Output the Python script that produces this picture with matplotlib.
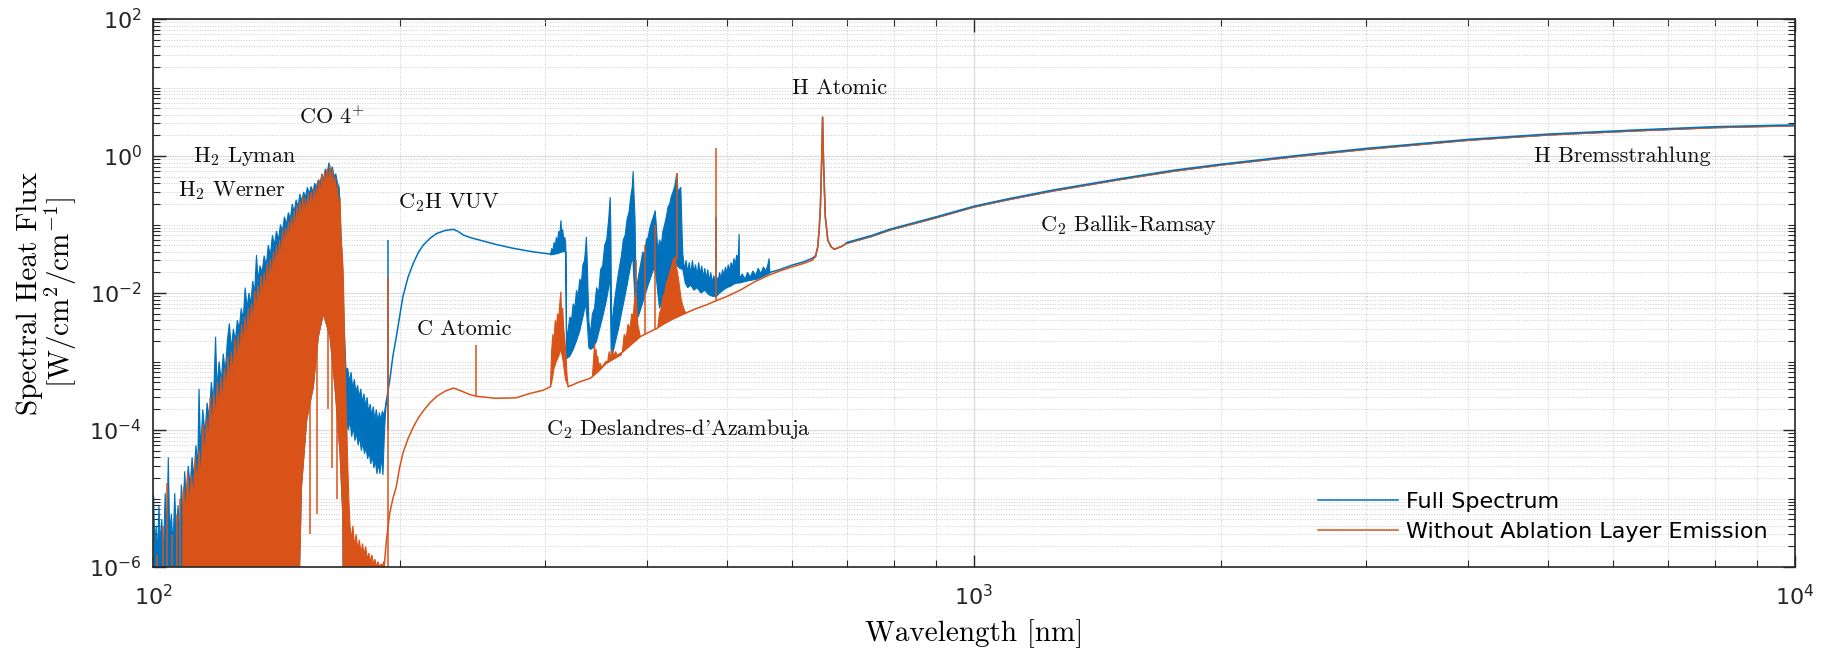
import numpy as np
import matplotlib.pyplot as plt
from matplotlib.ticker import LogLocator, NullFormatter

plt.rcParams['mathtext.fontset'] = 'cm'
plt.rcParams['axes.unicode_minus'] = False

BLUE = '#0072BD'
ORANGE = '#D95319'

# ---- values: (wavelength nm, flux W/cm2/cm-1) ----
# VUV band of the full spectrum, upper edge 100-192.5 nm
full_vuv_top = [
    (100.0, 2e-6), (100.2, 1.1e-5), (100.5, 2e-6), (100.9, 4e-6), (101.3, 1.5e-6), (101.7, 8e-6),
    (102.1, 2e-6), (102.5, 5e-6), (103.0, 1.5e-6), (103.5, 1.2e-5), (104.0, 3e-6), (104.4, 4e-5),
    (104.8, 3e-6), (105.3, 6e-6), (105.8, 2e-6), (106.3, 1.2e-5), (106.8, 3e-6), (107.3, 8e-6),
    (107.8, 3e-6), (108.3, 1.6e-5), (108.8, 5e-6), (109.3, 2.5e-5), (109.8, 1e-5), (110.4, 3e-5),
    (111.0, 1.5e-5), (111.6, 4e-5), (112.2, 2e-5), (112.8, 6e-5), (113.4, 3e-5), (113.8, 4e-4),
    (114.3, 5e-5), (115.0, 2e-4), (115.7, 9e-5), (116.4, 2.5e-4), (117.1, 1.5e-4), (117.8, 5e-4),
    (118.5, 2.5e-4), (119.2, 2.3e-3), (119.7, 4e-4), (120.4, 1e-3), (121.1, 5e-4), (121.8, 1.3e-3),
    (122.5, 7e-4), (123.2, 2e-3), (123.9, 3.6e-3), (124.6, 1.5e-3), (125.3, 3e-3), (126.0, 2e-3),
    (126.7, 4e-3), (127.4, 3e-3), (128.1, 6e-3), (128.8, 4e-3), (129.5, 1.2e-2), (130.2, 6e-3),
    (130.9, 1e-2), (131.6, 7e-3), (132.3, 1.5e-2), (133.0, 1e-2), (133.7, 3.6e-2), (134.3, 1.5e-2),
    (135.0, 2.5e-2), (135.8, 2e-2), (136.6, 3.5e-2), (137.4, 2.5e-2), (138.2, 5e-2), (139.0, 3.5e-2),
    (139.8, 7e-2), (140.6, 5e-2), (141.4, 8e-2), (142.2, 6e-2), (143.0, 0.10), (143.8, 8e-2),
    (144.6, 0.13), (145.4, 0.10), (146.2, 0.15), (147.0, 0.12), (147.8, 0.20), (148.6, 0.15),
    (149.4, 0.23), (150.2, 0.18), (151.0, 0.28), (151.8, 0.22), (152.6, 0.30), (153.4, 0.25),
    (154.2, 0.35), (155.0, 0.28), (155.8, 0.36), (156.6, 0.30), (157.4, 0.40), (158.2, 0.35),
    (159.0, 0.45), (159.8, 0.40), (160.6, 0.55), (161.4, 0.45), (162.2, 0.65), (163.0, 0.55),
    (163.8, 0.80), (164.6, 0.60), (165.4, 0.70), (166.2, 0.50), (167.0, 0.55), (167.8, 0.40),
    (168.6, 0.35), (169.4, 8e-2), (170.2, 2.5e-2), (171.0, 3e-3), (171.8, 8e-4), (172.7, 7.9e-4),
    (173.5, 5e-4), (174.3, 7e-4), (175.1, 4e-4), (175.9, 5.5e-4), (176.7, 3.5e-4), (177.5, 4.5e-4),
    (178.3, 3e-4), (179.1, 4e-4), (179.9, 2.5e-4), (180.7, 3.4e-4), (181.5, 2.2e-4), (182.3, 3e-4),
    (183.1, 1.8e-4), (183.9, 2.4e-4), (184.7, 1.6e-4), (185.5, 2.2e-4), (186.3, 1.4e-4), (187.1, 2e-4),
    (187.9, 1.3e-4), (188.7, 1.8e-4), (189.5, 1.4e-4), (190.3, 1.9e-4), (191.1, 1.6e-4), (191.9, 2.2e-4),
    (192.5, 2.7e-4),
]
full_vuv_bot = [
    (100.0, 1e-8), (149.5, 1e-8), (151.7, 1.5e-5), (153.9, 1.4e-4), (156.8, 4.3e-4), (159.0, 2.3e-3),
    (161.3, 5e-3), (164.3, 2.3e-3), (166.6, 4.3e-4), (169.0, 4.6e-5), (170.3, 5.8e-6), (170.8, 1e-8),
    (171.8, 1e-8), (172.2, 1.5e-4), (173.0, 1e-4), (173.8, 1.4e-4), (174.6, 8e-5),
    (175.4, 1.1e-4), (176.2, 7e-5), (177.0, 9e-5), (177.8, 6e-5), (178.6, 8e-5), (179.4, 5e-5),
    (180.2, 6.5e-5), (181.0, 4.5e-5), (181.8, 5.5e-5), (182.6, 3.8e-5), (183.4, 4.8e-5), (184.2, 3.2e-5),
    (185.0, 4.2e-5), (185.8, 2.8e-5), (186.6, 3.6e-5), (187.4, 2.3e-5), (188.2, 3.2e-5), (189.0, 2.3e-5),
    (189.8, 4e-5), (190.6, 2.2e-5), (191.4, 9e-5), (192.0, 1.8e-4), (192.5, 2.7e-4),
]
# C2H VUV continuum, full spectrum
full_c2h = [
    (192.5, 2.7e-4), (194.3, 5.4e-4), (196.0, 1.2e-3), (197.9, 2.3e-3), (199.7, 4.5e-3), (201.6, 8.9e-3),
    (204.5, 1.7e-2), (207.5, 2.7e-2), (210.5, 3.9e-2), (213.4, 5.0e-2), (217.5, 6.3e-2), (221.6, 7.4e-2),
    (227.0, 8.2e-2), (232.2, 8.5e-2), (235.0, 8.0e-2), (238.9, 7.0e-2), (244.0, 6.4e-2), (250.3, 5.9e-2),
    (262.0, 5.1e-2), (274.5, 4.5e-2), (290.0, 4.0e-2), (305.0, 3.7e-2),
]
# C2 sawtooth bands of the full spectrum, 305-442 nm
full_swan_top = [
    (305.0, 3.7e-2), (306.0, 4.5e-2), (307.0, 4e-2), (308.0, 5.5e-2), (309.0, 4.8e-2), (310.0, 6.5e-2),
    (311.0, 5.5e-2), (312.0, 8e-2), (313.0, 7e-2), (314.0, 0.115), (314.8, 7e-2), (315.5, 8.5e-2),
    (316.5, 6e-2), (317.5, 6.5e-2), (318.3, 5e-2), (319.0, 2.0e-3), (320.5, 3e-3), (322.0, 4.5e-3),
    (323.5, 4e-3), (325.0, 7e-3), (326.5, 6e-3), (328.0, 1.1e-2), (329.5, 9e-3), (331.0, 1.6e-2),
    (332.5, 1.4e-2), (334.0, 2.6e-2), (335.5, 3e-2), (336.5, 4.5e-2), (337.2, 6.6e-2), (338.0, 3e-2),
    (339.5, 4e-3), (341.0, 2.5e-3), (343.0, 5e-3), (345.0, 6e-3), (347.0, 1.2e-2), (349.0, 1.0e-2),
    (351.0, 2.2e-2), (353.0, 2.5e-2), (355.0, 5e-2), (357.0, 6e-2), (359.0, 0.12), (360.5, 0.25),
    (361.2, 8e-2), (362.0, 3e-3), (364.0, 6e-3), (366.0, 1.0e-2), (368.0, 1.6e-2), (370.0, 2.4e-2),
    (372.0, 3.5e-2), (374.0, 6e-2), (376.0, 7e-2), (378.0, 0.12), (380.0, 0.15), (382.0, 0.26),
    (383.5, 0.35), (384.5, 0.60), (385.5, 0.25), (386.5, 0.12), (387.5, 1.5e-2), (389.0, 1.4e-2),
    (391.0, 2e-2), (393.0, 2.8e-2), (395.0, 4e-2), (397.0, 3.5e-2), (399.0, 6e-2), (401.0, 6.5e-2),
    (403.0, 9e-2), (405.0, 0.11), (407.0, 0.13), (409.0, 0.16), (410.5, 9e-2), (412.0, 4e-2),
    (414.0, 6e-2), (416.0, 5e-2), (418.0, 8e-2), (420.0, 0.10), (422.0, 0.13), (424.0, 0.18),
    (426.0, 0.20), (428.0, 0.26), (430.0, 0.30), (432.0, 0.36), (434.6, 0.56), (436.0, 0.30),
    (437.5, 0.32), (439.5, 0.35), (440.5, 0.12), (442.0, 3.5e-2),
]
full_swan_bot = [
    (305.0, 3.6e-2), (309.0, 3.7e-2), (312.0, 3.8e-2), (315.0, 4e-2), (318.3, 4e-2), (319.0, 1.1e-3),
    (322.0, 1.2e-3), (325.0, 1.5e-3), (328.0, 2.0e-3), (331.0, 2.8e-3), (334.0, 4.5e-3), (336.5, 7e-3),
    (338.0, 4e-3), (339.5, 1.6e-3), (341.0, 1.5e-3), (344.0, 1.6e-3), (347.0, 2.0e-3), (350.0, 3e-3),
    (353.0, 4.5e-3), (356.0, 7e-3), (359.0, 1.2e-2), (360.5, 1.8e-2), (361.5, 1.2e-3), (363.0, 1.3e-3),
    (366.0, 2.0e-3), (369.0, 3e-3), (372.0, 5e-3), (375.0, 8e-3), (378.0, 1.3e-2), (381.0, 2.2e-2),
    (384.0, 3.5e-2), (386.5, 8e-3), (387.5, 4.5e-3), (390.0, 4.5e-3), (393.0, 6e-3), (396.0, 8e-3),
    (400.0, 1.2e-2), (404.0, 1.7e-2), (408.0, 2.4e-2), (410.5, 1.6e-2), (412.0, 1.0e-2), (414.0, 6e-3),
    (418.0, 8e-3), (422.0, 1.1e-2), (426.0, 1.6e-2), (430.0, 2.2e-2), (434.0, 2.6e-2), (438.0, 2.3e-2),
    (442.0, 2.2e-2),
]
# noisy band 442-564 nm, full spectrum
full_vis_top = [
    (442, 3.5e-2), (444, 2.2e-2), (446, 3e-2), (448, 2e-2), (450, 2.8e-2), (452, 1.9e-2), (454, 3e-2),
    (456, 2e-2), (458, 2.6e-2), (460, 1.8e-2), (462, 2.8e-2), (464, 1.9e-2), (466, 2.5e-2), (468, 1.7e-2),
    (470, 2.3e-2), (472, 1.6e-2), (474, 2.2e-2), (476, 1.5e-2), (478, 2e-2), (480, 1.4e-2), (482, 1.8e-2),
    (484, 1.4e-2), (486, 1.7e-2), (488, 1.5e-2), (490, 2e-2), (492, 1.6e-2), (494, 2.2e-2), (496, 1.8e-2),
    (498, 2.4e-2), (500, 2e-2), (502, 2.6e-2), (504, 2.1e-2), (506, 2.8e-2), (508, 2.3e-2), (510, 3.2e-2),
    (512, 2.6e-2), (514, 3.6e-2), (516, 3e-2), (517.6, 7.3e-2), (518, 1.6e-2), (522, 1.9e-2),
    (526, 1.6e-2), (530, 2e-2), (534, 1.7e-2), (538, 2.1e-2), (542, 1.8e-2), (546, 2.3e-2), (550, 1.9e-2),
    (554, 2.4e-2), (558, 2.1e-2), (561, 2.6e-2), (563, 3.2e-2), (564, 2e-2),
]
full_vis_bot = [
    (442, 2.2e-2), (445, 1.4e-2), (448, 1.2e-2), (452, 1.3e-2), (456, 1.1e-2), (460, 1.2e-2),
    (465, 1.0e-2), (470, 1.1e-2), (475, 9.5e-3), (480, 9e-3), (485, 8.8e-3), (490, 1.0e-2),
    (495, 1.1e-2), (500, 1.2e-2), (505, 1.25e-2), (510, 1.35e-2), (515, 1.4e-2), (518, 1.4e-2),
    (530, 1.5e-2), (545, 1.6e-2), (564, 1.95e-2),
]
full_red = [(564, 2.0e-2), (580, 2.2e-2), (600, 2.55e-2), (620, 2.85e-2), (635, 3.2e-2), (641, 3.5e-2)]
# continuum of the full spectrum lies a hair above the other one
full_cont = [
    (699.3, 5.45e-2), (750, 6.9e-2), (790, 8.55e-2), (850, 0.108), (898, 0.129), (1000, 0.185),
    (1100, 0.237), (1250, 0.32), (1500, 0.463), (1750, 0.62), (2000, 0.76), (2500, 1.03), (3000, 1.29),
    (4000, 1.75), (5000, 2.09), (6500, 2.42), (8000, 2.68), (10000, 2.85),
]

# spectrum without ablation layer emission
abl_vuv_top = [
    (108.6, 1e-8), (108.8, 1.2e-5), (109.0, 1.5e-5), (109.6, 6e-6), (110.2, 2.5e-5), (110.8, 8e-6),
    (111.4, 2.2e-5), (112.0, 1.0e-5), (112.6, 4e-5), (113.2, 1.5e-5), (113.8, 5e-5), (114.4, 2e-5),
    (115.0, 1.2e-4), (115.6, 4e-5), (116.2, 1.5e-4), (116.8, 6e-5), (117.4, 3e-4), (118.0, 1.0e-4),
    (118.6, 3.5e-4), (119.2, 1.5e-4), (119.8, 5e-4), (120.4, 2e-4), (121.0, 6e-4), (121.6, 2.5e-4),
    (122.2, 8e-4), (122.8, 3.5e-4), (123.4, 1.2e-3), (124.0, 5e-4), (124.6, 1.4e-3), (125.2, 6e-4),
    (125.8, 2.2e-3), (126.4, 9e-4), (127.0, 2.5e-3), (127.6, 1.1e-3), (128.2, 3.5e-3), (128.8, 1.6e-3),
    (129.4, 4.5e-3), (130.0, 2e-3), (130.6, 6e-3), (131.2, 2.8e-3), (131.8, 7e-3), (132.4, 3.5e-3),
    (133.0, 1.1e-2), (133.6, 5e-3), (134.2, 1.3e-2), (134.8, 6e-3), (135.4, 1.8e-2), (136.0, 8e-3),
    (136.6, 2.0e-2), (137.2, 1e-2), (137.8, 2.8e-2), (138.4, 1.3e-2), (139.0, 3.2e-2), (139.6, 1.5e-2),
    (140.2, 4e-2), (140.8, 2e-2), (141.4, 5e-2), (142.0, 2.5e-2), (142.6, 6e-2), (143.2, 3e-2),
    (143.8, 8.5e-2), (144.4, 4e-2), (145.0, 9e-2), (145.6, 5e-2), (146.2, 0.11), (146.8, 5.5e-2),
    (147.4, 0.13), (148.0, 7e-2), (148.6, 0.16), (149.2, 8e-2), (149.8, 0.19), (150.4, 0.10),
    (151.0, 0.22), (151.6, 0.11), (152.2, 0.26), (152.8, 0.13), (153.4, 0.24), (154.0, 0.14),
    (154.6, 0.29), (155.2, 0.15), (155.8, 0.30), (156.4, 0.16), (157.0, 0.34), (157.6, 0.18),
    (158.2, 0.38), (158.8, 0.20), (159.4, 0.45), (160.0, 0.25), (160.6, 0.55), (161.2, 0.30),
    (161.8, 0.60), (162.4, 0.33), (163.0, 0.65), (163.6, 0.35), (164.2, 0.75), (164.8, 0.38),
    (165.4, 0.65), (166.0, 0.32), (166.6, 0.50), (167.2, 0.25), (167.8, 0.40), (168.4, 0.15),
    (169.0, 0.25), (169.5, 6e-2), (170.0, 4e-2), (170.5, 2e-2), (171.0, 4e-3), (171.5, 8e-4),
    (172.0, 1.5e-4), (172.6, 4e-5), (173.2, 1e-5), (173.8, 4e-6), (174.5, 2.5e-6), (175.2, 4e-6),
    (176.0, 2e-6), (176.8, 3e-6), (177.6, 1.8e-6), (178.4, 2.5e-6), (179.2, 1.6e-6), (180.0, 2.2e-6),
    (180.8, 1.5e-6), (181.6, 2e-6), (182.4, 1.3e-6), (183.2, 1.6e-6), (184.0, 1.2e-6), (184.8, 1.5e-6),
    (185.6, 1.1e-6), (186.4, 1.3e-6), (187.2, 1.0e-6), (188.0, 1.2e-6), (188.8, 1.0e-6), (189.6, 1.1e-6),
    (190.4, 1.05e-6), (191.0, 1.2e-6), (191.5, 1.2e-6),
]
abl_vuv_bot = [
    (108.6, 1e-8), (149.5, 1e-8), (151.7, 1.5e-5), (153.9, 1.4e-4), (156.8, 4.3e-4), (159.0, 2.3e-3),
    (161.3, 5e-3), (164.3, 2.3e-3), (166.6, 4.3e-4), (169.0, 4.6e-5), (170.3, 5.8e-6), (170.8, 1e-8),
    (191.5, 1e-8),
]
abl_c2h = [
    (191.5, 1.2e-6), (192.5, 2.5e-6), (194.3, 6.2e-6), (196.0, 1e-5), (197.9, 1.5e-5), (199.7, 2.8e-5),
    (201.6, 4.6e-5), (204.5, 7.5e-5), (207.5, 1.1e-4), (210.5, 1.5e-4), (213.4, 1.9e-4), (217.5, 2.5e-4),
    (221.6, 3.1e-4), (227.0, 3.7e-4), (232.2, 4.1e-4), (235.0, 3.9e-4), (238.9, 3.6e-4), (243.0, 3.3e-4),
    (248.0, 3.1e-4), (255.0, 3.0e-4), (261.6, 2.9e-4), (276.8, 2.95e-4), (287.4, 3.4e-4), (298.5, 3.8e-4),
    (305.0, 4.3e-4),
]
abl_band1_top = [
    (305.0, 5e-4), (306.0, 1.5e-3), (307.0, 2.5e-3), (308.0, 2e-3), (309.0, 4e-3), (310.0, 3e-3),
    (311.0, 5e-3), (312.0, 4e-3), (313.0, 7e-3), (313.9, 1.05e-2), (314.5, 5e-3), (315.5, 6e-3),
    (316.5, 3e-3), (317.5, 2e-3), (318.5, 1.2e-3), (319.5, 6e-4), (320.5, 4.3e-4),
]
abl_band1_bot = [(305.0, 4.3e-4), (306.0, 5e-4), (308.0, 8e-4), (310.0, 1e-3), (312.0, 1.2e-3),
                 (314.0, 1.5e-3), (316.0, 1e-3), (318.0, 5.5e-4), (320.5, 4.3e-4)]
abl_band2_top = [
    (343.0, 6.2e-4), (344.0, 1.0e-3), (345.0, 1.85e-3), (345.8, 1.2e-3), (346.6, 1.5e-3), (347.4, 1.0e-3),
    (348.2, 1.2e-3), (349.0, 8.5e-4), (350.5, 9.5e-4), (352.0, 8e-4), (354.0, 9e-4), (356.0, 1.0e-3),
    (358.0, 1.0e-3), (359.5, 1.4e-3), (361.0, 1.1e-3), (362.5, 1.5e-3), (364.0, 1.2e-3), (366.0, 1.4e-3),
    (368.0, 1.2e-3), (370.0, 1.3e-3), (372.0, 1.3e-3),
]
abl_band2_bot = [(343.0, 6.2e-4), (356.0, 9.3e-4), (372.0, 1.25e-3)]
abl_band3_top = [
    (373.0, 1.4e-3), (375.0, 2.5e-3), (377.0, 2.2e-3), (379.0, 3.5e-3), (381.0, 3e-3), (383.0, 5e-3),
    (384.5, 4.5e-3), (386.0, 8e-3), (387.5, 1.1e-2), (388.5, 6e-3), (389.5, 3.5e-3), (390.5, 3e-3),
    (392.0, 2.4e-3),
]
abl_band3_bot = [(373.0, 1.4e-3), (392.0, 2.3e-3)]
abl_band4_top = [
    (412, 3.2e-3), (414, 5e-3), (416, 6e-3), (418, 9e-3), (420, 1e-2), (422, 1.4e-2), (424, 1.6e-2),
    (426, 2e-2), (428, 2.4e-2), (430, 3e-2), (432, 3.4e-2), (434, 2.5e-2), (436, 1.8e-2), (438, 1.2e-2),
    (440, 8e-3), (442, 6.5e-3), (444, 5.5e-3), (446, 5.1e-3),
]
abl_band4_bot = [(412, 3.2e-3), (420, 3.6e-3), (430, 4.2e-3), (446, 5.1e-3)]
abl_base = [
    (320.5, 4.3e-4), (325, 4.6e-4), (330, 5e-4), (335, 5.3e-4), (341, 5.7e-4), (348, 7e-4), (356, 9.3e-4),
    (365, 1.15e-3), (374, 1.4e-3), (383, 1.8e-3), (392, 2.3e-3), (400, 2.6e-3), (410, 3.0e-3),
    (420, 3.6e-3), (430, 4.2e-3), (442, 4.9e-3), (449, 5.3e-3), (460, 6e-3), (472, 6.7e-3), (485, 7.7e-3),
    (499, 8.8e-3), (519, 1.1e-2), (540, 1.45e-2), (563, 1.83e-2), (580, 2.1e-2), (600, 2.4e-2),
    (620, 2.7e-2), (635, 3.0e-2), (641, 3.4e-2),
]
# H-alpha line and continuum
continuum = [
    (641, 3.4e-2), (645.2, 4.7e-2), (648, 9e-2), (650, 0.18), (652.5, 0.98), (654, 3.7), (655.5, 0.98),
    (657.5, 0.30), (659, 0.13), (663.7, 5.9e-2), (670, 4.7e-2), (676.3, 4.35e-2), (690, 4.8e-2),
    (699.3, 5.3e-2), (750, 6.7e-2), (790, 8.3e-2), (850, 0.105), (898, 0.125), (1000, 0.18),
    (1100, 0.23), (1250, 0.31), (1500, 0.45), (1750, 0.60), (2000, 0.74), (2500, 1.0), (3000, 1.25),
    (4000, 1.7), (5000, 2.03), (6500, 2.35), (8000, 2.6), (10000, 2.77),
]

# isolated lines: wavelength, foot, tip
full_lines_wl = [193.3, 485.0]
full_lines_lo = [1e-4, 1.5e-2]
full_lines_hi = [5.9e-2, 0.13]
abl_lines_wl = [100.1, 101.2, 102.8, 103.9, 105.6, 107.0, 108.0, 155.5, 158.3, 163.2, 165.1, 167.5,
                193.3, 247.6, 388.0, 397.7, 409.0, 434.6, 485.0]
abl_lines_lo = [1e-8, 1e-8, 1e-8, 1e-8, 1e-8, 1e-8, 1e-8, 3e-6, 6e-6, 2e-4, 2.8e-5, 1e-5,
                1e-8, 3.1e-4, 1.1e-2, 2.4e-3, 3e-3, 3e-2, 7.7e-3]
abl_lines_hi = [2.8e-6, 1.5e-6, 4e-6, 1.7e-5, 3e-6, 6e-6, 1e-5, 0.1, 0.2, 0.2, 0.3, 0.1,
                1.74e-2, 1.74e-3, 3e-2, 5e-2, 0.1, 0.56, 1.3]

labels = [
    ('CO 4$^{+}$', 150.6, 3.7), ('H$_2$ Lyman', 111.9, 1.0), ('H$_2$ Werner', 107.3, 0.31),
    ('C$_2$H VUV', 198.9, 0.206), ('C Atomic', 210, 3.0e-3), ("C$_2$ Deslandres-d'Azambuja", 301, 1.03e-4),
    ('H Atomic', 600, 9.8), ('C$_2$ Ballik-Ramsay', 1205, 0.098), ('H Bremsstrahlung', 4810, 1.0),
]


def band(ax, top, bot, color):
    xt, yt = zip(*top)
    xb, yb = zip(*bot)
    ax.fill(list(xt) + list(xb[::-1]), list(yt) + list(yb[::-1]), color=color, lw=0.8)


def line(ax, pts, color, **kw):
    x, y = zip(*pts)
    return ax.plot(x, y, color=color, lw=1.1, **kw)


fig = plt.figure(figsize=(18.36, 6.51), dpi=100)
ax = fig.add_axes([0.0833, 0.129, 0.8944, 0.8418])
ax.set_xscale('log')
ax.set_yscale('log')

# full spectrum
band(ax, full_vuv_top, full_vuv_bot, BLUE)
line(ax, full_c2h, BLUE, label='Full Spectrum')
band(ax, full_swan_top, full_swan_bot, BLUE)
band(ax, full_vis_top, full_vis_bot, BLUE)
line(ax, full_red, BLUE)
line(ax, continuum, BLUE)
ax.vlines(full_lines_wl, full_lines_lo, full_lines_hi, color=BLUE, lw=1.1)

# without ablation layer emission
band(ax, abl_vuv_top, abl_vuv_bot, ORANGE)
line(ax, abl_c2h, ORANGE, label='Without Ablation Layer Emission')
band(ax, abl_band1_top, abl_band1_bot, ORANGE)
band(ax, abl_band2_top, abl_band2_bot, ORANGE)
band(ax, abl_band3_top, abl_band3_bot, ORANGE)
band(ax, abl_band4_top, abl_band4_bot, ORANGE)
line(ax, abl_base, ORANGE)
line(ax, continuum, ORANGE)
ax.vlines(abl_lines_wl, abl_lines_lo, abl_lines_hi, color=ORANGE, lw=1.1)

# full spectrum continuum peeks out above the orange one
line(ax, full_cont, BLUE, zorder=3)

ax.set_xlim(100, 1e4)
ax.set_ylim(1e-6, 1e2)
ax.set_yticks([1e-6, 1e-4, 1e-2, 1e0, 1e2])
ax.yaxis.set_minor_locator(LogLocator(base=10, subs=np.arange(1, 10), numticks=100))
ax.yaxis.set_minor_formatter(NullFormatter())
ax.xaxis.set_minor_locator(LogLocator(base=10, subs=np.arange(2, 10), numticks=100))
ax.xaxis.set_minor_formatter(NullFormatter())

ax.grid(True, which='major', color='#dedede', lw=1.0, ls='-')
ax.grid(True, which='minor', color='#cccccc', lw=0.7, ls=':')
ax.set_axisbelow(True)
ax.tick_params(which='both', direction='in', top=True, right=True, colors='#262626', labelsize=16)
ax.tick_params(which='major', length=9, width=1)
ax.tick_params(which='minor', length=5, width=0.8)
ax.tick_params(axis='x', pad=12)
ax.tick_params(axis='y', pad=8)
for s in ax.spines.values():
    s.set_color('#262626')
    s.set_linewidth(1.2)

ax.set_xlabel('Wavelength [nm]', fontfamily='cmr10', fontsize=21)
ax.set_ylabel('Spectral Heat Flux\n[W/cm$^2$/cm$^{-1}$]', fontfamily='cmr10', fontsize=21, linespacing=1.0)
ax.xaxis.set_label_coords(0.5, -0.095)
ax.yaxis.set_label_coords(-0.045, 0.5)

for txt, x, y in labels:
    ax.text(x, y, txt, fontfamily='cmr10', fontsize=16, ha='left', va='center', color='#111111')

ax.legend(loc='upper left', bbox_to_anchor=(0.7095, 0.137), frameon=False, fontsize=16,
          handlelength=3.6, handletextpad=0.35, borderpad=0, borderaxespad=0, labelspacing=0.45)

fig.savefig('out.png', dpi=100)
